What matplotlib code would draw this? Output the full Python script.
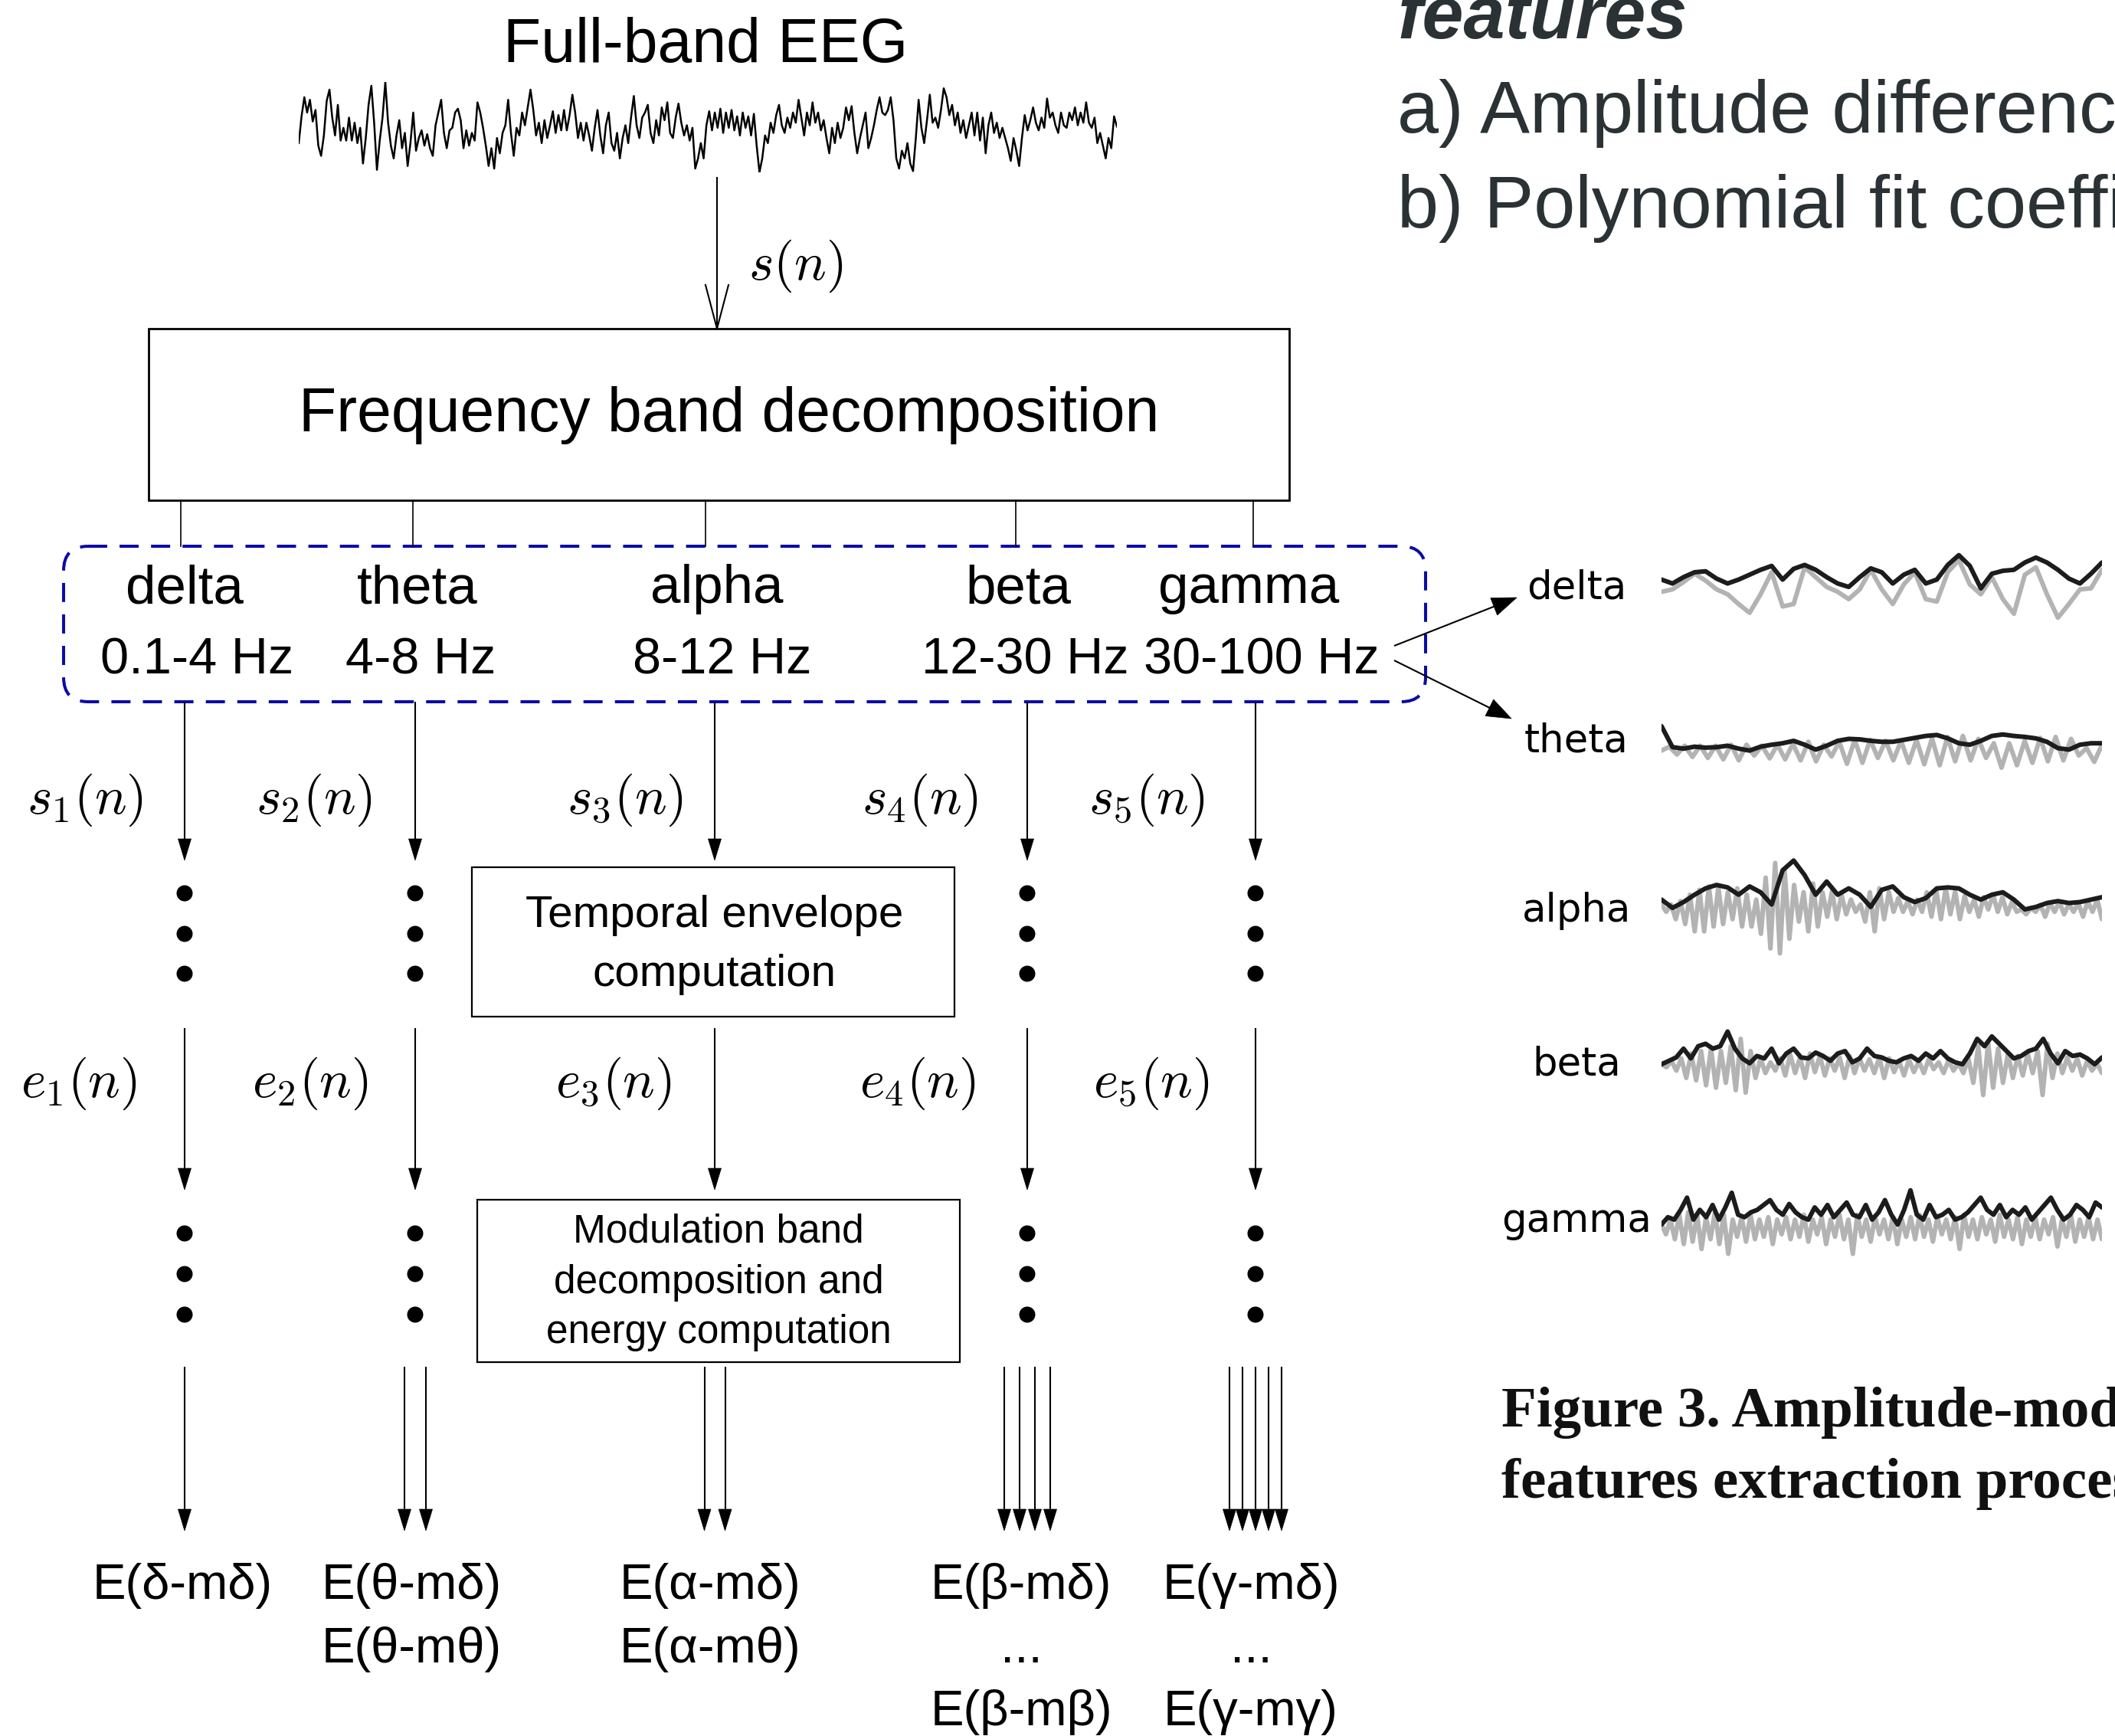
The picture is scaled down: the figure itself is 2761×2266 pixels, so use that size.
"""Amplitude-modulation feature extraction diagram (EEG band decomposition)."""
import matplotlib
matplotlib.use("Agg")
import matplotlib.pyplot as plt
import numpy as np
from matplotlib.patches import Rectangle, FancyBboxPatch, Polygon, Circle

plt.rcParams["mathtext.fontset"] = "cm"

W, H = 2761, 2266

# ---- data -----------------------------------------------------------------
bands = ["delta", "theta", "alpha", "beta", "gamma"]
band_ranges = ["0.1-4 Hz", "4-8 Hz", "8-12 Hz", "12-30 Hz", "30-100 Hz"]
sub_labels = [r"$s_{%d}(n)$" % (i + 1) for i in range(5)]
env_labels = [r"$e_{%d}(n)$" % (i + 1) for i in range(5)]
n_outputs = [1, 2, 2, 4, 5]          # modulation-band energies per band
energy_lines = [
    ["E(δ-mδ)"],
    ["E(θ-mδ)", "E(θ-mθ)"],
    ["E(α-mδ)", "E(α-mθ)"],
    ["E(β-mδ)", "...", "E(β-mβ)"],
    ["E(γ-mδ)", "...", "E(γ-mγ)"],
]
top_notes = ["a) Amplitude difference", "b) Polynomial fit coefficients"]
caption = ["Figure 3. Amplitude-modulation", "features extraction process."]

# full-band EEG trace (depth units, larger = lower)
eeg_full = [
    320, 215, 140, 200, 150, 235, 190, 330, 370, 290, 155, 110, 220, 290, 170, 310, 260, 310, 220, 310,
    240, 320, 260, 400, 300, 170, 95, 240, 425, 310, 220, 80, 240, 330, 380, 290, 230, 340, 280, 410,
    320, 200, 350, 300, 270, 330, 285, 340, 370, 250, 200, 150, 280, 340, 270, 260, 200, 185, 230, 340,
    270, 330, 280, 310, 160, 200, 260, 330, 410, 340, 420, 300, 360, 280, 250, 150, 280, 370, 260, 290,
    200, 250, 180, 110, 190, 290, 240, 320, 230, 300, 250, 195, 280, 210, 270, 190, 270, 210, 130, 200,
    300, 240, 310, 240, 290, 350, 260, 190, 290, 360, 250, 200, 320, 350, 280, 380, 300, 250, 320, 220,
    135, 250, 300, 220, 200, 170, 280, 320, 230, 290, 180, 230, 160, 280, 300, 220, 165, 240, 290, 250,
    310, 260, 420, 380, 320, 380, 250, 195, 270, 200, 260, 185, 280, 200, 260, 190, 270, 215, 290, 200,
    260, 215, 290, 205, 330, 435, 380, 290, 320, 240, 280, 210, 170, 250, 280, 220, 260, 200, 240, 150,
    220, 290, 200, 250, 160, 240, 200, 270, 230, 300, 360, 260, 320, 240, 300, 260, 180, 230, 175, 280,
    360, 300, 250, 200, 340, 300, 250, 190, 140, 200, 210, 190, 140, 230, 380, 420, 350, 380, 320, 400,
    430, 300, 150, 260, 320, 230, 130, 240, 220, 260, 190, 105, 140, 210, 170, 250, 200, 280, 230, 300,
    250, 200, 290, 200, 310, 220, 360, 250, 200, 280, 240, 300, 260, 300, 340, 390, 300, 350, 410, 300,
    210, 270, 230, 180, 240, 270, 220, 260, 145, 220, 200, 250, 280, 200, 250, 260, 200, 230, 180, 250,
    200, 240, 160, 240, 260, 220, 320, 280, 330, 380, 300, 340, 215, 255,
]

# band-limited signals (grey) and their envelopes (black), depth units
delta_sig = [145, 140, 125, 108, 122, 140, 150, 170, 188, 150, 105, 175, 170, 95, 115, 135, 145, 160, 140, 100,
             140, 170, 130, 105, 160, 165, 105, 80, 130, 150, 115, 160, 190, 110, 95, 150, 198, 170, 140, 138, 100]
delta_env = [120, 128, 115, 105, 103, 118, 128, 120, 110, 100, 92, 120, 98, 90, 100, 115, 128, 135, 115, 97,
             105, 128, 110, 100, 128, 120, 90, 70, 92, 138, 108, 102, 100, 85, 75, 85, 100, 118, 128, 108, 85]
theta_sig = [470, 462, 478, 460, 483, 460, 485, 460, 488, 458, 490, 458, 480, 460, 486, 458, 488, 456, 490, 452,
             492, 458, 482, 452, 497, 448, 495, 448, 485, 450, 490, 450, 495, 448, 498, 445, 500, 442, 492, 440,
             490, 446, 485, 455, 505, 455, 500, 450, 495, 444, 492, 442, 490, 446, 480, 465, 493, 458]
theta_env = [420, 463, 466, 462, 464, 463, 460, 466, 470, 462, 458, 455, 450, 458, 468, 460, 450, 446, 447, 450,
             452, 452, 448, 444, 440, 438, 445, 455, 458, 450, 440, 437, 440, 442, 445, 452, 465, 468, 458, 455, 455]
alpha_sig = [785, 800, 785, 815, 778, 825, 765, 840, 755, 840, 748, 830, 750, 825, 760, 815, 752, 830, 765, 830,
             775, 845, 730, 875, 700, 885, 715, 855, 745, 820, 760, 840, 742, 830, 760, 810, 758, 815, 765, 805,
             775, 800, 785, 820, 760, 840, 752, 815, 760, 800, 772, 800, 778, 805, 775, 800, 760, 810, 755, 815,
             752, 805, 758, 815, 768, 800, 775, 810, 770, 795, 765, 800, 770, 805, 780, 800, 795, 805, 792, 800,
             786, 810, 782, 800, 780, 805, 784, 800, 782, 810, 778, 800, 775, 815]
alpha_env = [775, 792, 780, 765, 752, 745, 750, 765, 748, 760, 785, 715, 695, 725, 765, 738, 765, 752, 765, 790,
             755, 748, 770, 780, 772, 752, 750, 752, 765, 775, 765, 760, 775, 795, 790, 782, 778, 782, 780, 775, 770]
beta_sig = [1112, 1118, 1105, 1125, 1100, 1140, 1090, 1145, 1085, 1155, 1080, 1160, 1085, 1150, 1075, 1165, 1060,
            1170, 1085, 1140, 1100, 1130, 1108, 1125, 1100, 1135, 1092, 1130, 1098, 1140, 1090, 1128, 1095, 1135,
            1100, 1125, 1098, 1140, 1095, 1130, 1100, 1125, 1102, 1130, 1098, 1140, 1100, 1128, 1105, 1135, 1102,
            1128, 1106, 1130, 1102, 1122, 1108, 1130, 1104, 1125, 1110, 1130, 1100, 1150, 1075, 1175, 1068, 1160,
            1080, 1150, 1090, 1140, 1095, 1135, 1090, 1130, 1085, 1175, 1070, 1140, 1090, 1130, 1098, 1125, 1100,
            1135, 1105, 1125, 1110, 1130]
beta_env = [1112, 1105, 1098, 1080, 1100, 1075, 1070, 1080, 1075, 1045, 1080, 1100, 1110, 1095, 1100, 1080, 1110,
            1090, 1080, 1098, 1100, 1088, 1095, 1105, 1090, 1085, 1108, 1100, 1080, 1095, 1098, 1105, 1108, 1100,
            1095, 1105, 1090, 1100, 1085, 1100, 1108, 1112, 1090, 1060, 1075, 1055, 1070, 1085, 1100, 1095, 1085,
            1080, 1060, 1090, 1110, 1085, 1095, 1092, 1100, 1112, 1098]
gamma_sig = [1440, 1460, 1430, 1470, 1420, 1480, 1415, 1475, 1420, 1490, 1425, 1470, 1415, 1480, 1420, 1500, 1430,
             1465, 1425, 1475, 1420, 1470, 1430, 1465, 1425, 1480, 1430, 1460, 1425, 1470, 1430, 1465, 1420, 1475,
             1430, 1460, 1425, 1480, 1430, 1465, 1420, 1470, 1430, 1500, 1420, 1465, 1430, 1475, 1425, 1460, 1430,
             1470, 1425, 1480, 1430, 1465, 1425, 1470, 1420, 1465, 1430, 1475, 1425, 1460, 1430, 1470, 1425, 1490,
             1420, 1465, 1430, 1470, 1425, 1460, 1430, 1475, 1420, 1465, 1430, 1470, 1425, 1480, 1430, 1465, 1425,
             1470, 1430, 1460, 1425, 1485, 1430, 1465, 1420, 1475, 1430, 1465, 1425, 1470, 1430, 1470]
gamma_env = [1440, 1425, 1430, 1410, 1385, 1430, 1410, 1425, 1400, 1430, 1405, 1375, 1420, 1425, 1415, 1410, 1400,
             1390, 1410, 1420, 1398, 1415, 1425, 1430, 1405, 1420, 1400, 1425, 1410, 1395, 1420, 1425, 1400, 1430,
             1415, 1390, 1420, 1440, 1410, 1370, 1420, 1430, 1400, 1425, 1420, 1410, 1430, 1425, 1415, 1400, 1385,
             1410, 1420, 1400, 1425, 1410, 1420, 1405, 1430, 1415, 1400, 1385, 1410, 1430, 1420, 1400, 1410, 1425,
             1395, 1405]
band_signals = [delta_sig, theta_sig, alpha_sig, beta_sig, gamma_sig]
band_envelopes = [delta_env, theta_env, alpha_env, beta_env, gamma_env]

# ---- layout ---------------------------------------------------------------
SANS = "Liberation Sans"
col_x = [241, 542, 933, 1341, 1639]
tick_x = [236, 539, 921, 1326, 1636]
name_x = [241, 545, 936, 1329, 1630]
range_x = [257, 549, 943, 1338, 1647]
s_lab_x = [111, 410, 816, 1201, 1497]
e_lab_x = [103, 405, 801, 1198, 1503]
out_x = [238, 537, 927, 1333, 1633]
out_spacing = [0, 28, 27, 20, 17]
right_label_y = [782, 981, 1203, 1404, 1608]

fig = plt.figure(figsize=(W / 100, H / 100), dpi=100)
ax = fig.add_axes([0, 0, 1, 1])
ax.set_xlim(0, W)
ax.set_ylim(H, 0)
ax.axis("off")


def arrow(x0, y0, x1, y1, hl=28, hw=8.5, lw=1.5):
    d = np.array([x1 - x0, y1 - y0], dtype=float)
    u = d / np.hypot(*d)
    n = np.array([-u[1], u[0]])
    base = np.array([x1, y1]) - u * hl
    ax.plot([x0, base[0] + u[0] * 4], [y0, base[1] + u[1] * 4], color="k", lw=lw,
            solid_capstyle="butt")
    ax.add_patch(Polygon([base + n * hw, base - n * hw, [x1, y1]], closed=True,
                         fc="k", ec="k", lw=0.5))


def dots(x, ys):
    for y in ys:
        ax.add_patch(Circle((x, y), 10.5, fc="k", ec="none"))


# Full-band EEG
ax.text(921, 81, "Full-band EEG", ha="center", va="baseline", fontsize=58, family=SANS)
ax_eeg = fig.add_axes([390 / W, 1 - 225 / H, (1458 - 390) / W, (225 - 107) / H])
ax_eeg.plot(np.arange(len(eeg_full)), eeg_full, color="k", lw=1.8)
ax_eeg.set_xlim(0, len(eeg_full) - 1)
ax_eeg.set_ylim(435, 80)
ax_eeg.axis("off")

# s(n) arrow with open head
ax.plot([936, 936], [232, 429], color="k", lw=1.5)
ax.plot([921, 936, 951], [372, 429, 372], color="k", lw=1.5)
ax.text(1039, 347, r"$s(n)$", ha="center", va="center", fontsize=50)

# Frequency band decomposition box
ax.add_patch(Rectangle((194, 429), 1683 - 194, 653 - 429, fc="none", ec="k", lw=2))
ax.text(952, 563, "Frequency band decomposition", ha="center", va="baseline",
        fontsize=58, family=SANS)
for x in tick_x:
    ax.plot([x, x], [653, 713], color="k", lw=1.2)

# dashed band box
ax.add_patch(FancyBboxPatch((83, 713), 1861 - 83, 916 - 713,
                            boxstyle="round,pad=0,rounding_size=32",
                            fc="none", ec="#0c0ca6", lw=2.9,
                            linestyle=(0, (6.2, 4.0))))
for name, nx, rng, rx in zip(bands, name_x, band_ranges, range_x):
    ax.text(nx, 787, name, ha="center", va="baseline", fontsize=51, family=SANS)
    ax.text(rx, 880, rng, ha="center", va="baseline", fontsize=48, family=SANS)

# arrows to the right-hand panel
arrow(1820, 843, 1980, 780, hl=32, hw=12)
arrow(1820, 862, 1973, 938, hl=32, hw=12)

# band columns
for i, x in enumerate(col_x):
    arrow(x, 916, x, 1123)
    ax.text(s_lab_x[i], 1044, sub_labels[i], ha="center", va="center", fontsize=50)
    arrow(x, 1342, x, 1553)
    ax.text(e_lab_x[i], 1414, env_labels[i], ha="center", va="center", fontsize=50)
    if i != 2:
        dots(x, [1166, 1219, 1271])
        dots(x, [1610, 1663, 1716])
    k = n_outputs[i]
    offs = (np.arange(k) - (k - 1) / 2) * out_spacing[i]
    for o in offs:
        arrow(x + o, 1784, x + o, 1998)
    for j, line in enumerate(energy_lines[i]):
        ax.text(out_x[i], [2087, 2170, 2252][j], line, ha="center", va="baseline",
                fontsize=47, family=SANS)

# processing boxes
ax.add_patch(Rectangle((616, 1132), 1246 - 616, 1327 - 1132, fc="white", ec="k", lw=1.6))
ax.text(933, 1210, "Temporal envelope", ha="center", va="baseline", fontsize=42, family=SANS)
ax.text(933, 1287, "computation", ha="center", va="baseline", fontsize=42, family=SANS)
ax.add_patch(Rectangle((623, 1566), 1253 - 623, 1778 - 1566, fc="white", ec="k", lw=1.6))
for txt, yb in zip(["Modulation band", "decomposition and", "energy computation"],
                   [1622, 1688, 1753]):
    ax.text(938, yb, txt, ha="center", va="baseline", fontsize=37, family=SANS)

# right-hand panel: band signals with envelopes
for name, yb in zip(bands, right_label_y):
    ax.text(2058, yb, name, ha="center", va="baseline", fontsize=37, family="DejaVu Sans")
ax_r = fig.add_axes([2169 / W, 1 - 1680 / H, (2744 - 2169) / W, 1000 / H])
for sig, env in zip(band_signals, band_envelopes):
    ax_r.plot(np.linspace(0, 1, len(sig)), sig, color="#b3b3b3", lw=4.3,
              solid_joinstyle="round", solid_capstyle="round")
    ax_r.plot(np.linspace(0, 1, len(env)), env, color="#1c1c1c", lw=4.3,
              solid_joinstyle="round", solid_capstyle="round")
ax_r.set_xlim(0, 1)
ax_r.set_ylim(1568, 0)
ax_r.axis("off")

# top-right text (cut by the page edge, as in the source page)
ax.text(1824, 50, "features", ha="left", va="baseline", fontsize=70, family=SANS,
        weight="bold", style="italic", color="#2b3235")
for txt, yb in zip(top_notes, [173, 297]):
    ax.text(1824, yb, txt, ha="left", va="baseline", fontsize=70, family=SANS,
            color="#2b3235")

# caption
for txt, yb in zip(caption, [1862, 1955]):
    ax.text(1960, yb, txt, ha="left", va="baseline", fontsize=54,
            family="Liberation Serif", weight="bold", color="#111111")

fig.savefig("out.png", dpi=100)
